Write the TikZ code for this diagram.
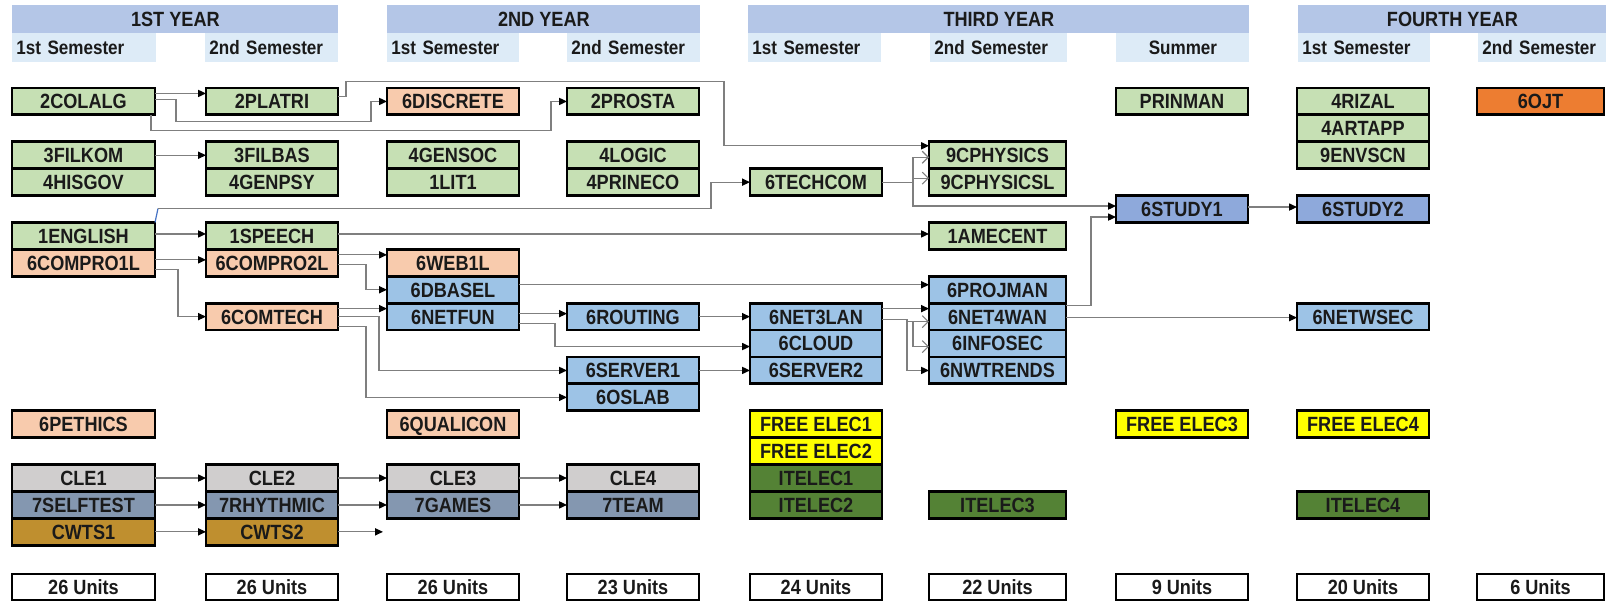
\documentclass[tikz,border=0pt]{standalone}
\usepackage{fontspec}
\setmainfont{Liberation Sans}[FakeStretch=0.88]
\usetikzlibrary{arrows.meta,calc}
\definecolor{grn}{HTML}{C6E0B4}
\definecolor{pch}{HTML}{F8CBAD}
\definecolor{blu}{HTML}{9DC3E6}
\definecolor{stu}{HTML}{8EA9DB}
\definecolor{gry}{HTML}{D0CECE}
\definecolor{slt}{HTML}{8497B0}
\definecolor{gld}{HTML}{BF8F2F}
\definecolor{yel}{HTML}{FFFF00}
\definecolor{dgr}{HTML}{548235}
\definecolor{org}{HTML}{ED7D31}
\definecolor{yrc}{HTML}{B4C6E7}
\definecolor{smc}{HTML}{DDEBF7}
\definecolor{lnc}{HTML}{7F7F7F}
\definecolor{tkc}{HTML}{4472C4}
\definecolor{txc}{HTML}{1A1A1A}
\begin{document}
\begin{tikzpicture}[x=0.5pt,y=-0.5pt,
  crs/.style={draw=black,line width=1.4pt,inner sep=0pt,outer sep=0pt,anchor=north west,minimum width=66pt,minimum height=13.45pt,text height=7.4pt,text depth=0pt,text=txc,font=\bfseries\fontsize{10.3}{11}\selectfont},
  wA/.style={minimum width=71.5pt},
  wF/.style={minimum width=68.5pt},
  wI/.style={minimum width=63.5pt},
  unit/.style={crs,fill=white,minimum height=13pt},
  yrbar/.style={fill=yrc,inner sep=0pt,anchor=north west,minimum height=14pt,text height=7.4pt,text depth=0pt,text=txc,font=\bfseries\fontsize{10.3}{11}\selectfont},
  semlab/.style={fill=smc,inner xsep=2pt,inner ysep=0pt,anchor=north west,minimum height=14.5pt,text height=7pt,text depth=0pt,align=left,text=txc,font=\bfseries\fontsize{9.7}{10}\selectfont},
  ar/.style={draw=lnc,line width=0.6pt,-{Triangle[length=4pt,width=3.6pt,color=black]}},
  oa/.style={draw=lnc,line width=0.55pt,-{Straight Barb[length=3pt,width=6pt]}},
  gl/.style={draw=lnc,line width=0.6pt}]
\useasboundingbox (0,0) rectangle (1606,603);
\def\ca{12}\def\cb{206}\def\cc{387}\def\cd{567}\def\ce{750}\def\cf{929}\def\cg{1116}\def\ch{1297}\def\ci{1477}
% headers
\node[yrbar,minimum width=163pt] (y1) at (12,5) {1ST YEAR};
\node[yrbar,minimum width=156.5pt] (y2) at (387,5) {2ND YEAR};
\node[yrbar,minimum width=250.5pt] (y3) at (748,5) {THIRD YEAR};
\node[yrbar,minimum width=154pt] (y4) at (1298,5) {FOURTH YEAR};
\node[semlab,text width=68pt] (s1) at (12,33) {1st Semester};
\node[semlab,text width=62.5pt] (s2) at (205,33) {2nd Semester};
\node[semlab,text width=62pt] (s3) at (387,33) {1st Semester};
\node[semlab,text width=62.5pt] (s4) at (567,33) {2nd Semester};
\node[semlab,text width=62.5pt] (s5) at (748,33) {1st Semester};
\node[semlab,text width=64.5pt] (s6) at (930,33) {2nd Semester};
\node[semlab,text width=62.5pt,align=center] (s7) at (1116,33) {Summer};
\node[semlab,text width=62pt] (s8) at (1298,33) {1st Semester};
\node[semlab,text width=60pt] (s9) at (1478,33) {2nd Semester};
% row 0
\node[crs,wA,fill=grn] (colalg) at (\ca,88) {2COLALG};
\node[crs,fill=grn] (platri) at (\cb,88) {2PLATRI};
\node[crs,fill=pch] (discrete) at (\cc,88) {6DISCRETE};
\node[crs,fill=grn] (prosta) at (\cd,88) {2PROSTA};
\node[crs,fill=grn] (prinman) at (\cg,88) {PRINMAN};
\node[crs,fill=grn] (rizal) at (\ch,88) {4RIZAL};
\node[crs,wI,fill=org] (ojt) at (\ci,88) {6OJT};
\node[crs,fill=grn] (artapp) at (\ch,114.9) {4ARTAPP};
% row 2-3
\node[crs,wA,fill=grn] (filkom) at (\ca,141.8) {3FILKOM};
\node[crs,fill=grn] (filbas) at (\cb,141.8) {3FILBAS};
\node[crs,fill=grn] (gensoc) at (\cc,141.8) {4GENSOC};
\node[crs,fill=grn] (logic) at (\cd,141.8) {4LOGIC};
\node[crs,wF,fill=grn] (cphys) at (\cf,141.8) {9CPHYSICS};
\node[crs,fill=grn] (envscn) at (\ch,141.8) {9ENVSCN};
\node[crs,wA,fill=grn] (hisgov) at (\ca,168.7) {4HISGOV};
\node[crs,fill=grn] (genpsy) at (\cb,168.7) {4GENPSY};
\node[crs,fill=grn] (lit) at (\cc,168.7) {1LIT1};
\node[crs,fill=grn] (prineco) at (\cd,168.7) {4PRINECO};
\node[crs,fill=grn] (techcom) at (\ce,168.7) {6TECHCOM};
\node[crs,wF,fill=grn] (cphysl) at (\cf,168.7) {9CPHYSICSL};
% row 4
\node[crs,fill=stu] (study1) at (\cg,195.6) {6STUDY1};
\node[crs,fill=stu] (study2) at (\ch,195.6) {6STUDY2};
% row 5-6
\node[crs,wA,fill=grn] (english) at (\ca,222.5) {1ENGLISH};
\node[crs,fill=grn] (speech) at (\cb,222.5) {1SPEECH};
\node[crs,wF,fill=grn] (amecent) at (\cf,222.5) {1AMECENT};
\node[crs,wA,fill=pch] (compro1) at (\ca,249.4) {6COMPRO1L};
\node[crs,fill=pch] (compro2) at (\cb,249.4) {6COMPRO2L};
\node[crs,fill=pch] (web1l) at (\cc,249.4) {6WEB1L};
% row 7
\node[crs,fill=blu] (dbasel) at (\cc,276.3) {6DBASEL};
\node[crs,wF,fill=blu] (projman) at (\cf,276.3) {6PROJMAN};
% row 8
\node[crs,fill=pch] (comtech) at (\cb,303.2) {6COMTECH};
\node[crs,fill=blu] (netfun) at (\cc,303.2) {6NETFUN};
\node[crs,fill=blu] (routing) at (\cd,303.2) {6ROUTING};
\node[crs,fill=blu] (net3lan) at (\ce,303.2) {6NET3LAN};
\node[crs,wF,fill=blu] (net4wan) at (\cf,303.2) {6NET4WAN};
\node[crs,fill=blu] (netwsec) at (\ch,303.2) {6NETWSEC};
% row 9-11
\node[crs,fill=blu] (cloud) at (\ce,330.1) {6CLOUD};
\node[crs,wF,fill=blu] (infosec) at (\cf,330.1) {6INFOSEC};
\node[crs,fill=blu] (server1) at (\cd,357) {6SERVER1};
\node[crs,fill=blu] (server2) at (\ce,357) {6SERVER2};
\node[crs,wF,fill=blu] (nwtrends) at (\cf,357) {6NWTRENDS};
\node[crs,fill=blu] (oslab) at (\cd,383.9) {6OSLAB};
% row 12-13
\node[crs,wA,fill=pch] (pethics) at (\ca,410.8) {6PETHICS};
\node[crs,fill=pch] (qualicon) at (\cc,410.8) {6QUALICON};
\node[crs,fill=yel] (fe1) at (\ce,410.8) {FREE ELEC1};
\node[crs,fill=yel] (fe3) at (\cg,410.8) {FREE ELEC3};
\node[crs,fill=yel] (fe4) at (\ch,410.8) {FREE ELEC4};
\node[crs,fill=yel] (fe2) at (\ce,437.7) {FREE ELEC2};
% row 14-16
\node[crs,wA,fill=gry] (cle1) at (\ca,464.6) {CLE1};
\node[crs,fill=gry] (cle2) at (\cb,464.6) {CLE2};
\node[crs,fill=gry] (cle3) at (\cc,464.6) {CLE3};
\node[crs,fill=gry] (cle4) at (\cd,464.6) {CLE4};
\node[crs,fill=dgr] (itelec1) at (\ce,464.6) {ITELEC1};
\node[crs,wA,fill=slt] (selftest) at (\ca,491.5) {7SELFTEST};
\node[crs,fill=slt] (rhythmic) at (\cb,491.5) {7RHYTHMIC};
\node[crs,fill=slt] (games) at (\cc,491.5) {7GAMES};
\node[crs,fill=slt] (team) at (\cd,491.5) {7TEAM};
\node[crs,fill=dgr] (itelec2) at (\ce,491.5) {ITELEC2};
\node[crs,wF,fill=dgr] (itelec3) at (\cf,491.5) {ITELEC3};
\node[crs,fill=dgr] (itelec4) at (\ch,491.5) {ITELEC4};
\node[crs,wA,fill=gld] (cwts1) at (\ca,518.4) {CWTS1};
\node[crs,fill=gld] (cwts2) at (\cb,518.4) {CWTS2};
% units
\node[unit,wA] (u1) at (\ca,574) {26 Units};
\node[unit] (u2) at (\cb,574) {26 Units};
\node[unit] (u3) at (\cc,574) {26 Units};
\node[unit] (u4) at (\cd,574) {23 Units};
\node[unit] (u5) at (\ce,574) {24 Units};
\node[unit,wF] (u6) at (\cf,574) {22 Units};
\node[unit] (u7) at (\cg,574) {9 Units};
\node[unit] (u8) at (\ch,574) {20 Units};
\node[unit,wI] (u9) at (\ci,574) {6 Units};
% connectors
\draw[ar] ($(colalg.east)+(0,-8)$) -- ($(platri.west)+(0,-8)$);
\draw[ar] ($(colalg.east)+(0,-2)$) -- ++(21,0) |- ($(discrete.west)+(-16,20)$) |- (discrete.west);
\draw[ar] ($(colalg.south east)+(-4,0)$) |- ($(prosta.west)+(-16,29)$) |- (prosta.west);
\draw[ar] ($(platri.east)+(0,-5)$) -- ++(8,0) |- ($(cphys.north west)+(-205,-60)$) |- ($(cphys.north west)+(0,4)$);
\draw[ar] (filkom) -- (filbas);
\coordinate (eb) at ($(english.north east)+(3,-14)$);
\draw[tkc,line width=0.6pt] (english.north east) -- (eb);
\draw[ar] (eb) -| ($(techcom.west)+(-39,0)$) -- (techcom.west);
\draw[ar] (techcom.east) -| ($(study1.west)+(-203,-3)$) -- ($(study1.west)+(0,-3)$);
\draw[gl] ($(cphys.west)+(-16,2)$) -- ($(cphysl.west)+(-16,0)$);
\draw[oa] ($(cphys.west)+(-16,2)$) -- ($(cphys.west)+(0,2)$);
\draw[oa] ($(cphysl.west)+(-16,-4)$) -- ($(cphysl.west)+(0,-4)$);
\draw[ar] ($(english.east)+(0,-2)$) -- ($(speech.west)+(0,-2)$);
\draw[ar] ($(speech.east)+(0,-2)$) -- ($(amecent.west)+(0,-2)$);
\draw[ar] ($(compro1.east)+(0,-3)$) -- ($(compro2.west)+(0,-3)$);
\draw[ar] ($(compro1.east)+(0,7)$) -| ($(comtech.west)+(-28,0)$) -- (comtech.west);
\draw[ar] ($(compro2.east)+(0,-8)$) -- ($(web1l.west)+(0,-8)$);
\draw[ar] ($(compro2.east)+(0,2)$) -| ($(dbasel.west)+(-21,0)$) -- (dbasel.west);
\draw[ar] ($(comtech.east)+(0,-8)$) -- ($(netfun.west)+(0,-8)$);
\draw[ar] (comtech.east) -| ($(server1.west)+(-188,0)$) -- (server1.west);
\draw[ar] ($(comtech.east)+(0,10)$) -| ($(oslab.west)+(-201,0)$) -- (oslab.west);
\draw[ar] ($(netfun.east)+(0,-3)$) -- ($(routing.west)+(0,-3)$);
\draw[ar] ($(netfun.east)+(0,7)$) -| ($(cloud.west)+(-195,3)$) -- ($(cloud.west)+(0,3)$);
\draw[ar] ($(dbasel.east)+(0,-5)$) -- ($(projman.west)+(0,-5)$);
\draw[ar] (routing) -- (net3lan);
\draw[ar] (server1) -- (server2);
\draw[ar] ($(net3lan.east)+(0,-8)$) -- ($(net4wan.west)+(0,-8)$);
\draw[ar] ($(net3lan.east)+(0,3)$) -| ($(nwtrends.west)+(-22,0)$) -- (nwtrends.west);
\draw[oa] ($(net4wan.west)+(-22,5)$) -- ($(net4wan.west)+(0,5)$);
\draw[gl] ($(net4wan.west)+(-16,5)$) -- ($(infosec.west)+(-16,3)$);
\draw[oa] ($(infosec.west)+(-16,3)$) -- ($(infosec.west)+(0,3)$);
\draw[ar] ($(net4wan.north east)+(0,2)$) -| ($(study1.west)+(-25,8)$) -- ($(study1.west)+(0,8)$);
\draw[ar] ($(net4wan.east)+(0,1)$) -- ($(netwsec.west)+(0,1)$);
\draw[ar] ($(study1.east)+(0,-2)$) -- ($(study2.west)+(0,-2)$);
\draw[ar] (cle1) -- (cle2);
\draw[ar] (cle2) -- (cle3);
\draw[ar] (cle3) -- (cle4);
\draw[ar] (selftest) -- (rhythmic);
\draw[ar] (rhythmic) -- (games);
\draw[ar] (games) -- (team);
\draw[ar] (cwts1) -- (cwts2);
\coordinate (cwend) at ($(cwts2.east)+(45,0)$);
\draw[ar] (cwts2) -- (cwend);
\end{tikzpicture}
\end{document}
